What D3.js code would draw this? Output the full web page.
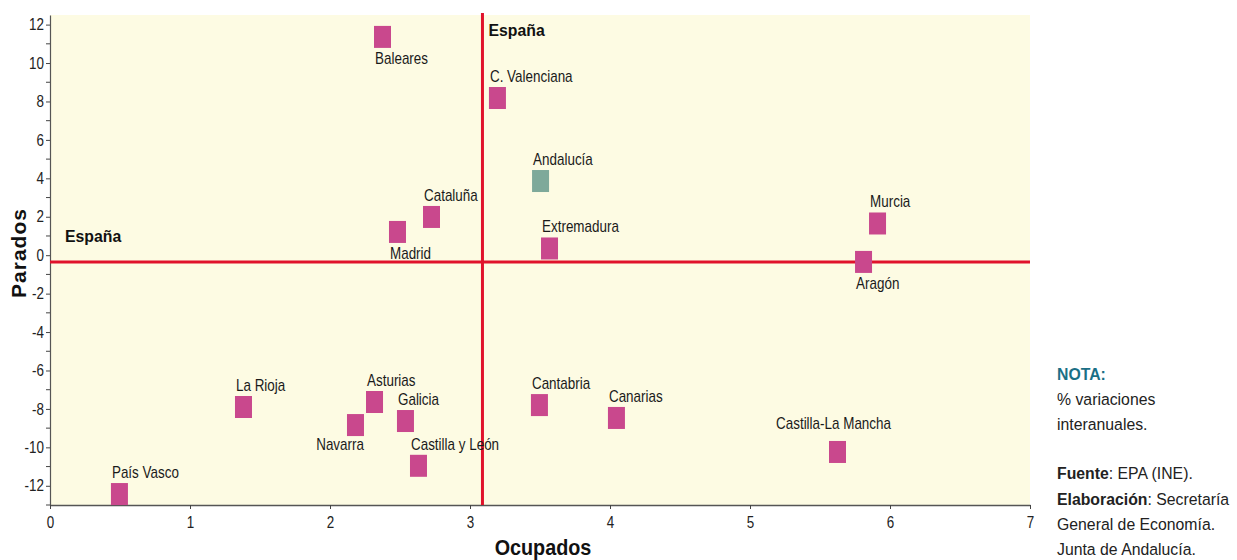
<!DOCTYPE html>
<html>
<head>
<meta charset="utf-8">
<script src="https://cdn.jsdelivr.net/npm/d3@7"></script>
<style>
  html, body { margin: 0; padding: 0; background: #ffffff; }
  svg { display: block; }
</style>
</head>
<body>
<svg id="chart" width="1237" height="560"></svg>
<script>
// ---- Data ----
const regions = ["Baleares","C. Valenciana","Andalucía","Extremadura","Cataluña","Madrid","Murcia","Aragón",
  "Castilla-La Mancha","Cantabria","Canarias","La Rioja","Asturias","Galicia","Navarra","Castilla y León","País Vasco"];
const ocupados = [2.375, 3.196, 3.504, 3.568, 2.725, 2.482, 5.911, 5.811,
  5.625, 3.496, 4.046, 1.382, 2.318, 2.539, 2.182, 2.632, 0.496];
const parados = [11.36, 8.18, 3.86, 0.35, 1.99, 1.21, 1.65, -0.35,
  -10.24, -7.80, -8.47, -7.90, -7.64, -8.63, -8.84, -10.96, -12.43];
const espanaOcupados = 3.089;
const espanaParados = -0.36;
const highlight = "Andalucía";
const xTicks = [0, 1, 2, 3, 4, 5, 6, 7];
const yTicks = [-12, -10, -8, -6, -4, -2, 0, 2, 4, 6, 8, 10, 12];
const yMinorTicks = [-13, -11, -9, -7, -5, -3, -1, 1, 3, 5, 7, 9, 11];
const xTitle = "Ocupados";
const yTitle = "Parados";
const refLabel = "España";
const noteLines = [
  {parts: [{t: "NOTA:", b: true, c: "#1a6f86"}]},
  {parts: [{t: "% variaciones"}]},
  {parts: [{t: "interanuales."}]},
  {parts: [{t: "Fuente", b: true}, {t: ": EPA (INE)."}]},
  {parts: [{t: "Elaboración", b: true}, {t: ": Secretaría"}]},
  {parts: [{t: "General de Economía."}]},
  {parts: [{t: "Junta de Andalucía."}]}
];

// label placement (style, not data)
const labelPlace = {
  "Baleares": "below", "Madrid": "below", "Aragón": "below", "Navarra": "belowEnd",
  "Castilla-La Mancha": "aboveMid"
};

// ---- Layout ----
const svg = d3.select("#chart");
const plot = {left: 50, right: 1030, top: 15, bottom: 505};
const x = d3.scaleLinear().domain([0, 7]).range([plot.left, plot.right]);
const y = d3.scaleLinear().domain([-13, 12.5]).range([plot.bottom, plot.top]);

const FONT = "'Liberation Sans Narrow','Arial Narrow','Liberation Sans',Arial,sans-serif";
const SX = 0.84;
const pink = "#c9488d", teal = "#7ea99a", red = "#e0122b";

svg.append("rect")
  .attr("x", plot.left).attr("y", plot.top)
  .attr("width", plot.right - plot.left).attr("height", plot.bottom - plot.top)
  .attr("fill", "#fdfbe3");

// Y axis
const yAxis = svg.append("g").attr("transform", `translate(${plot.left},0)`)
  .call(d3.axisLeft(y).tickValues(yTicks).tickFormat(d => String(d)).tickSize(4).tickPadding(1).tickSizeOuter(0));
yAxis.select(".domain").attr("stroke", "#555").attr("stroke-width", 1.2);
yAxis.selectAll(".tick line").attr("stroke", "#444");
yAxis.selectAll(".tick text")
  .attr("font-family", FONT).attr("font-size", 16).attr("fill", "#222")
  .attr("transform", `scale(${SX},1)`).attr("x", -6 / SX);
svg.append("g").selectAll("line").data(yMinorTicks).join("line")
  .attr("x1", plot.left - 4).attr("x2", plot.left)
  .attr("y1", d => y(d)).attr("y2", d => y(d))
  .attr("stroke", "#444");

// X axis
const xAxis = svg.append("g").attr("transform", `translate(0,${plot.bottom})`)
  .call(d3.axisBottom(x).tickValues(xTicks).tickFormat(d => String(d)).tickSize(4).tickSizeOuter(0));
xAxis.select(".domain").attr("stroke", "#555").attr("stroke-width", 1.5);
xAxis.selectAll(".tick line").attr("stroke", "#444");
xAxis.selectAll(".tick text")
  .attr("font-family", FONT).attr("font-size", 16).attr("fill", "#222")
  .attr("y", 23).attr("dy", 0)
  .attr("transform", `scale(${SX},1)`);

// Reference lines
svg.append("line")
  .attr("x1", x(espanaOcupados)).attr("x2", x(espanaOcupados))
  .attr("y1", plot.top - 2).attr("y2", plot.bottom)
  .attr("stroke", red).attr("stroke-width", 3);
svg.append("line")
  .attr("x1", plot.left).attr("x2", plot.right)
  .attr("y1", y(espanaParados)).attr("y2", y(espanaParados))
  .attr("stroke", red).attr("stroke-width", 3);

// España labels
svg.append("text").text(refLabel)
  .attr("transform", `translate(${x(espanaOcupados) + 6},${plot.top + 21}) scale(0.93,1)`)
  .attr("font-family", FONT).attr("font-weight", "bold").attr("font-size", 17).attr("fill", "#111");
svg.append("text").text(refLabel)
  .attr("transform", `translate(65,${y(espanaParados) - 20}) scale(0.93,1)`)
  .attr("font-family", FONT).attr("font-weight", "bold").attr("font-size", 17).attr("fill", "#111");

// Points
const W = 17, H = 22;
const pts = regions.map((r, i) => ({name: r, ox: ocupados[i], py: parados[i]}));
svg.append("g").selectAll("rect").data(pts).join("rect")
  .attr("x", d => x(d.ox) - W / 2).attr("y", d => y(d.py) - H / 2)
  .attr("width", W).attr("height", H)
  .attr("fill", d => d.name === highlight ? teal : pink);

// Labels
svg.append("g").selectAll("text").data(pts).join("text")
  .text(d => d.name)
  .attr("font-family", FONT).attr("font-size", 16).attr("fill", "#1a1a1a")
  .attr("text-anchor", d => {
    const p = labelPlace[d.name];
    return p === "belowEnd" ? "end" : p === "aboveMid" ? "middle" : "start";
  })
  .attr("transform", d => {
    const cx = x(d.ox), cy = y(d.py);
    const p = labelPlace[d.name];
    let tx = cx - W / 2 + 1, ty = cy - H / 2 - 5;
    if (p === "below") { ty = cy + H / 2 + 16; }
    if (p === "belowEnd") { tx = cx + W / 2; ty = cy + H / 2 + 14; }
    if (p === "aboveMid") { tx = cx - 4; ty = cy - H / 2 - 12; }
    return `translate(${tx},${ty}) scale(${SX},1)`;
  });

// Axis titles
svg.append("text").text(xTitle)
  .attr("transform", `translate(543,555) scale(0.9,1)`)
  .attr("text-anchor", "middle")
  .attr("font-family", FONT).attr("font-weight", "bold").attr("font-size", 22).attr("fill", "#111");
svg.append("text").text(yTitle)
  .attr("transform", `translate(26,253) rotate(-90)`)
  .attr("text-anchor", "middle")
  .attr("font-family", "'Liberation Sans',Arial,sans-serif").attr("font-weight", "bold")
  .attr("font-size", 21).attr("letter-spacing", 1).attr("fill", "#111");

// Notes
const noteY = [380, 405, 430, 479, 505, 530, 555];
const notes = svg.append("g");
noteLines.forEach((ln, i) => {
  const t = notes.append("text")
    .attr("transform", `translate(1057,${noteY[i]}) scale(0.93,1)`)
    .attr("font-family", "'Liberation Sans',Arial,sans-serif").attr("font-size", 17).attr("fill", "#222");
  ln.parts.forEach(p => {
    t.append("tspan").text(p.t)
      .attr("font-weight", p.b ? "bold" : "normal")
      .attr("fill", p.c || "#222");
  });
});
</script>
</body>
</html>
